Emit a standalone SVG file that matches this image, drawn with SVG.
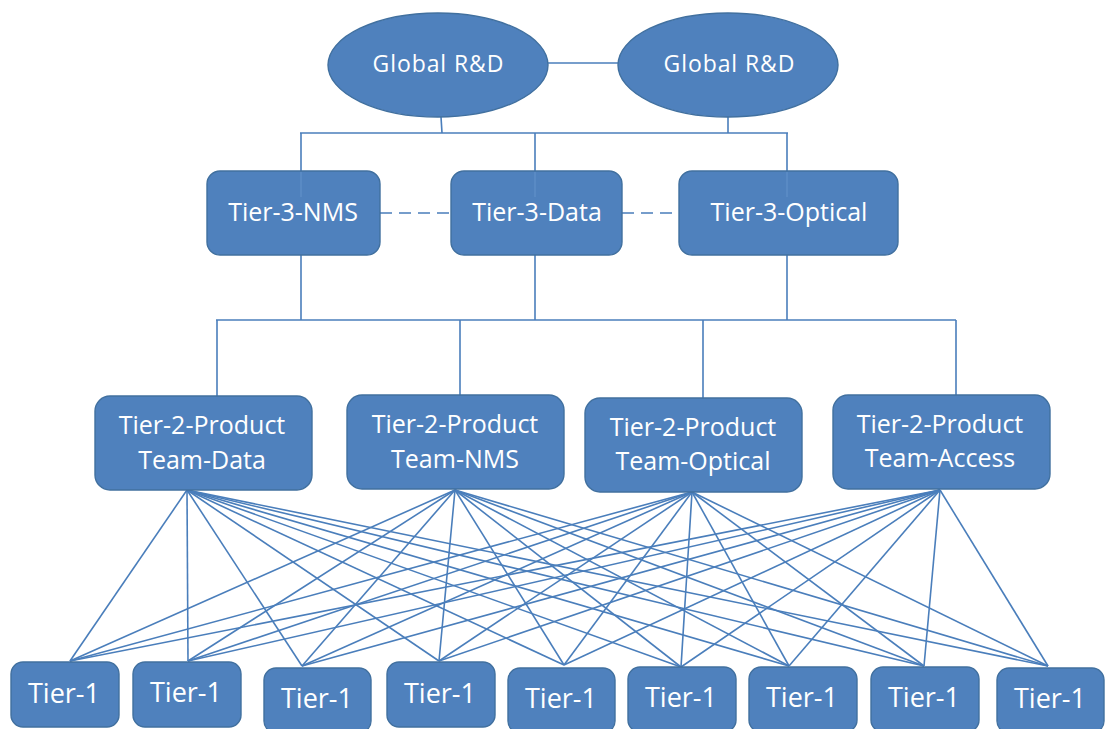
<svg xmlns="http://www.w3.org/2000/svg" width="1105" height="729" viewBox="0 0 1105 729">
  <style>
    .node { fill: #4F81BD; stroke: #41709F; stroke-width: 1.4; }
    .lbl { fill: #FFFFFF; font-family: "Open Sans", "Noto Sans", sans-serif; font-size: 25px; text-anchor: middle; }
    .lbl1 { font-size: 27px; }
    .top { font-size: 23px; }
    .wire { stroke: #4A7EBB; stroke-width: 1.6; fill: none; }
    .dash { stroke-dasharray: 12 7; }
    .ghost { stroke: #6B9AD0; stroke-width: 1.4; opacity: 0.55; }
  </style>
  <rect width="1105" height="729" fill="#FFFFFF"/>

  <!-- connectors -->
  <g id="connectors">
    <!-- peer link between the two R&D centres -->
    <line class="wire" x1="548" y1="63" x2="618" y2="63"/>
    <!-- R&D to tier-3 bus -->
    <line class="wire" x1="441" y1="117" x2="442" y2="133"/>
    <line class="wire" x1="728" y1="117" x2="728" y2="133"/>
    <line class="wire" x1="300" y1="133" x2="788" y2="133"/>
    <line class="wire" x1="301" y1="133" x2="301" y2="171"/>
    <line class="wire" x1="535" y1="133" x2="535" y2="171"/>
    <line class="wire" x1="787" y1="133" x2="787" y2="171"/>
    <!-- dashed peer links between tier-3 groups -->
    <line class="wire dash" x1="380" y1="213" x2="451" y2="213"/>
    <line class="wire dash" x1="622" y1="213" x2="679" y2="213"/>
    <!-- tier-3 to tier-2 bus -->
    <line class="wire" x1="301" y1="255" x2="301" y2="320"/>
    <line class="wire" x1="535" y1="255" x2="535" y2="320"/>
    <line class="wire" x1="787" y1="255" x2="787" y2="320"/>
    <line class="wire" x1="216" y1="320" x2="956" y2="320"/>
    <line class="wire" x1="217" y1="320" x2="217" y2="396"/>
    <line class="wire" x1="460" y1="320" x2="460" y2="395"/>
    <line class="wire" x1="703" y1="320" x2="703" y2="398"/>
    <line class="wire" x1="956" y1="320" x2="956" y2="395"/>

    <!-- tier-2 to tier-1 mesh: every product team reaches every tier-1 unit -->
    <g class="wire">
      <!-- from Team-Data -->
      <line x1="187" y1="490" x2="70" y2="661"/>
      <line x1="187" y1="490" x2="188" y2="661"/>
      <line x1="187" y1="490" x2="302" y2="666"/>
      <line x1="187" y1="490" x2="439" y2="661"/>
      <line x1="187" y1="490" x2="564" y2="665"/>
      <line x1="187" y1="490" x2="681" y2="667"/>
      <line x1="187" y1="490" x2="789" y2="666"/>
      <line x1="187" y1="490" x2="924" y2="666"/>
      <line x1="187" y1="490" x2="1048" y2="666"/>
      <!-- from Team-NMS -->
      <line x1="455" y1="490" x2="70" y2="661"/>
      <line x1="455" y1="490" x2="188" y2="661"/>
      <line x1="455" y1="490" x2="302" y2="666"/>
      <line x1="455" y1="490" x2="439" y2="661"/>
      <line x1="455" y1="490" x2="564" y2="665"/>
      <line x1="455" y1="490" x2="681" y2="667"/>
      <line x1="455" y1="490" x2="789" y2="666"/>
      <line x1="455" y1="490" x2="924" y2="666"/>
      <line x1="455" y1="490" x2="1048" y2="666"/>
      <!-- from Team-Optical -->
      <line x1="692" y1="492" x2="70" y2="661"/>
      <line x1="692" y1="492" x2="188" y2="661"/>
      <line x1="692" y1="492" x2="302" y2="666"/>
      <line x1="692" y1="492" x2="439" y2="661"/>
      <line x1="692" y1="492" x2="564" y2="665"/>
      <line x1="692" y1="492" x2="681" y2="667"/>
      <line x1="692" y1="492" x2="789" y2="666"/>
      <line x1="692" y1="492" x2="924" y2="666"/>
      <line x1="692" y1="492" x2="1048" y2="666"/>
      <!-- from Team-Access -->
      <line x1="940" y1="490" x2="70" y2="661"/>
      <line x1="940" y1="490" x2="188" y2="661"/>
      <line x1="940" y1="490" x2="302" y2="666"/>
      <line x1="940" y1="490" x2="439" y2="661"/>
      <line x1="940" y1="490" x2="564" y2="665"/>
      <line x1="940" y1="490" x2="681" y2="667"/>
      <line x1="940" y1="490" x2="789" y2="666"/>
      <line x1="940" y1="490" x2="924" y2="666"/>
      <line x1="940" y1="490" x2="1048" y2="666"/>
    </g>
  </g>

  <!-- global R&D -->
  <g id="rd-left">
    <ellipse class="node" cx="438" cy="65" rx="110" ry="52"/>
    <text class="lbl top" x="438" y="72" textLength="131">Global R&amp;D</text>
  </g>
  <g id="rd-right">
    <ellipse class="node" cx="728" cy="65" rx="110" ry="52"/>
    <text class="lbl top" x="729" y="72" textLength="131">Global R&amp;D</text>
  </g>

  <!-- tier-3 -->
  <g id="t3-nms">
    <rect class="node" x="207" y="171" width="173" height="84" rx="13"/>
    <line class="ghost" x1="301" y1="172" x2="301" y2="197"/>
    <text class="lbl" x="293" y="221">Tier-3-NMS</text>
  </g>
  <g id="t3-data">
    <rect class="node" x="451" y="171" width="171" height="84" rx="13"/>
    <line class="ghost" x1="535" y1="172" x2="535" y2="197"/>
    <text class="lbl" x="537" y="221">Tier-3-Data</text>
  </g>
  <g id="t3-optical">
    <rect class="node" x="679" y="171" width="219" height="84" rx="13"/>
    <line class="ghost" x1="787" y1="172" x2="787" y2="197"/>
    <text class="lbl" x="789" y="221">Tier-3-Optical</text>
  </g>

  <!-- tier-2 product teams -->
  <g id="t2-data">
    <rect class="node" x="95" y="396" width="217" height="94" rx="15"/>
    <text class="lbl" x="202" y="434">Tier-2-Product</text>
    <text class="lbl" x="202" y="469">Team-Data</text>
  </g>
  <g id="t2-nms">
    <rect class="node" x="347" y="395" width="217" height="94" rx="15"/>
    <text class="lbl" x="455" y="433">Tier-2-Product</text>
    <text class="lbl" x="455" y="468">Team-NMS</text>
  </g>
  <g id="t2-optical">
    <rect class="node" x="585" y="398" width="217" height="94" rx="15"/>
    <text class="lbl" x="693" y="436">Tier-2-Product</text>
    <text class="lbl" x="693" y="470">Team-Optical</text>
  </g>
  <g id="t2-access">
    <rect class="node" x="833" y="395" width="217" height="94" rx="15"/>
    <text class="lbl" x="940" y="433">Tier-2-Product</text>
    <text class="lbl" x="940" y="467">Team-Access</text>
  </g>

  <!-- tier-1 units -->
  <g id="t1-1">
    <rect class="node" x="11" y="662" width="108" height="65" rx="12"/>
    <text class="lbl lbl1" x="64" y="703">Tier-1</text>
  </g>
  <g id="t1-2">
    <rect class="node" x="133" y="662" width="108" height="65" rx="12"/>
    <text class="lbl lbl1" x="186" y="702">Tier-1</text>
  </g>
  <g id="t1-3">
    <rect class="node" x="264" y="668" width="107" height="65" rx="12"/>
    <text class="lbl lbl1" x="317" y="708">Tier-1</text>
  </g>
  <g id="t1-4">
    <rect class="node" x="387" y="662" width="108" height="65" rx="12"/>
    <text class="lbl lbl1" x="440" y="703">Tier-1</text>
  </g>
  <g id="t1-5">
    <rect class="node" x="508" y="668" width="107" height="65" rx="12"/>
    <text class="lbl lbl1" x="561" y="708">Tier-1</text>
  </g>
  <g id="t1-6">
    <rect class="node" x="628" y="667" width="108" height="65" rx="12"/>
    <text class="lbl lbl1" x="681" y="707">Tier-1</text>
  </g>
  <g id="t1-7">
    <rect class="node" x="749" y="667" width="108" height="65" rx="12"/>
    <text class="lbl lbl1" x="802" y="707">Tier-1</text>
  </g>
  <g id="t1-8">
    <rect class="node" x="871" y="667" width="108" height="65" rx="12"/>
    <text class="lbl lbl1" x="924" y="707">Tier-1</text>
  </g>
  <g id="t1-9">
    <rect class="node" x="997" y="668" width="107" height="65" rx="12"/>
    <text class="lbl lbl1" x="1050" y="708">Tier-1</text>
  </g>
</svg>
